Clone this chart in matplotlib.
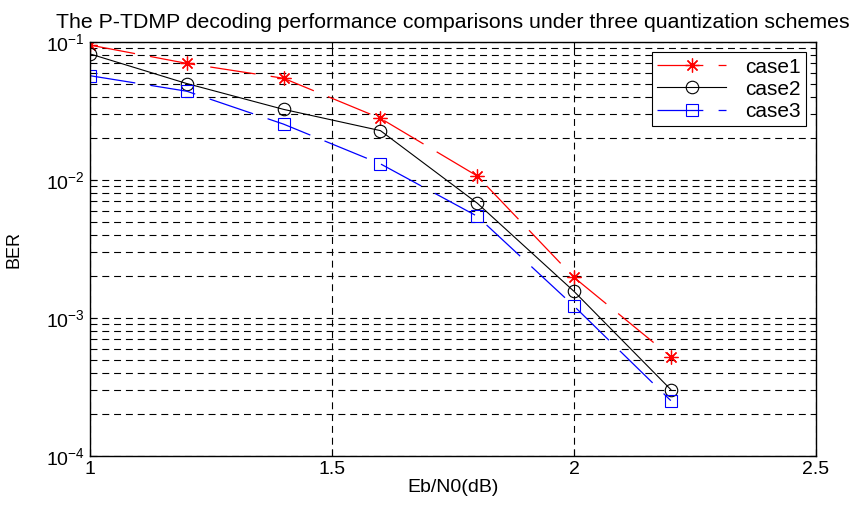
import numpy as np
import matplotlib
matplotlib.use("Agg")
import matplotlib.pyplot as plt
from matplotlib.ticker import LogLocator, NullFormatter

plt.rcParams['font.family'] = ['Liberation Sans', 'DejaVu Sans']
plt.rcParams['mathtext.fontset'] = 'custom'
plt.rcParams['mathtext.rm'] = 'Liberation Sans'
plt.rcParams['mathtext.it'] = 'Liberation Sans'
plt.rcParams['lines.scale_dashes'] = False

# data
ebn0 = [1.0, 1.2, 1.4, 1.6, 1.8, 2.0, 2.2]
case1 = [0.095, 0.070, 0.0546, 0.028, 0.0107, 0.00197, 0.000525]
case2 = [0.082, 0.050, 0.0325, 0.0228, 0.0068, 0.00156, 0.000303]
case3 = [0.057, 0.044, 0.0254, 0.0131, 0.00546, 0.00122, 0.000252]
labels = ['case1', 'case2', 'case3']

fig = plt.figure(figsize=(8.54, 5.05), dpi=100)
ax = fig.add_axes([0.1054, 0.097, 0.8501, 0.8198])

longdash = (0, (33, 11))
ax.semilogy(ebn0, case1, color='red', linestyle=longdash, linewidth=0.9,
            marker=(8, 2, 0), markersize=10, markeredgewidth=0.9, label=labels[0])
ax.semilogy(ebn0, case2, color='black', linestyle='-', linewidth=0.8,
            marker='o', markersize=9, markerfacecolor='none', markeredgewidth=0.8,
            label=labels[1])
ax.semilogy(ebn0, case3, color='blue', linestyle=longdash, linewidth=0.9,
            marker='s', markersize=9, markerfacecolor='none', markeredgewidth=0.8,
            label=labels[2])

ax.set_xlim(1, 2.5)
ax.set_ylim(1e-4, 1e-1)
ax.set_xticks([1, 1.5, 2, 2.5])
ax.set_xticklabels(['1', '1.5', '2', '2.5'])
ax.yaxis.set_major_locator(LogLocator(base=10, numticks=10))
ax.yaxis.set_minor_locator(LogLocator(base=10, subs=np.arange(2, 10), numticks=10))
ax.yaxis.set_minor_formatter(NullFormatter())

ax.grid(True, which='both', axis='y', color='black', linestyle=(0, (5, 3.5)), linewidth=0.8)
ax.grid(True, which='major', axis='x', color='black', linestyle=(0, (5, 3.5)), linewidth=0.8)

ax.tick_params(which='both', direction='in', top=True, right=True, labelsize=14)
ax.tick_params(which='major', length=5)
ax.tick_params(which='minor', length=3)
for s in ax.spines.values():
    s.set_linewidth(1.0)

ax.set_xlabel('Eb/N0(dB)', fontsize=14, labelpad=1)
ax.set_ylabel('BER', fontsize=13, labelpad=17)
ax.set_title('The P-TDMP decoding performance comparisons under three quantization schemes',
             fontsize=15.3, pad=10)

leg = ax.legend(loc='upper right', fontsize=15, fancybox=False, framealpha=1,
                edgecolor='black', handlelength=3.3, borderaxespad=0.5,
                borderpad=0.25, labelspacing=0.15, handletextpad=0.9)
leg.get_frame().set_linewidth(0.8)

fig.savefig('out.png', dpi=100)
